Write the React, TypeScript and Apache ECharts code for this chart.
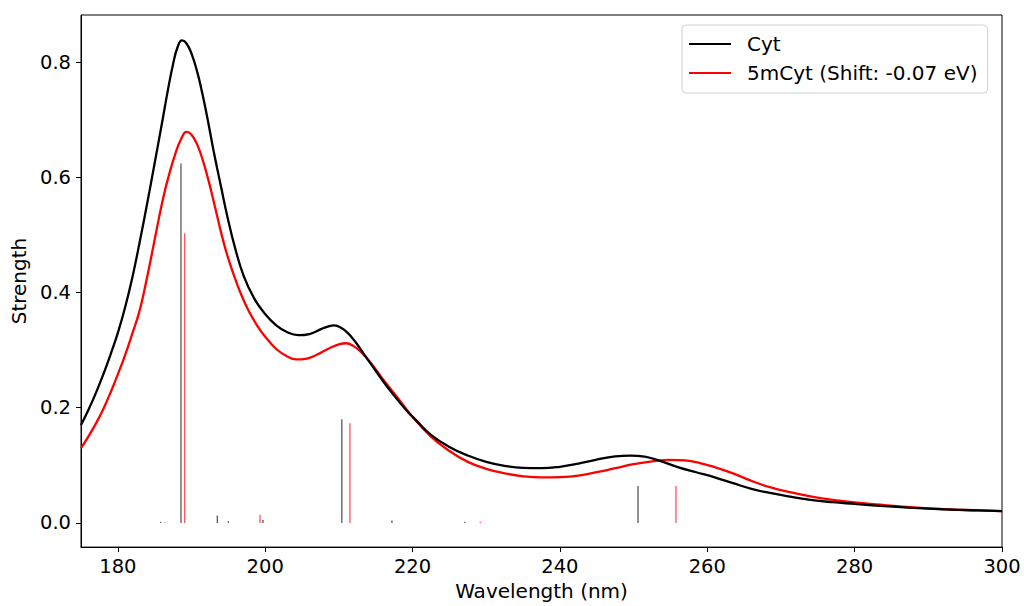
import React, { useEffect, useRef } from "react";
import * as echarts from "echarts";

// Broadened absorption spectra (wavelength in nm, oscillator strength)
const cytWavelength = [
  175.0, 176.0, 177.0, 178.0, 179.0, 180.0, 181.0, 182.0, 183.0, 184.0, 185.0,
  186.0, 186.8, 187.5, 188.1, 188.7, 189.3, 190.0, 190.8, 191.5, 192.2, 193.0,
  194.0, 194.9, 195.9, 197.1, 198.5, 199.9, 201.5, 203.0, 204.5, 206.0, 207.5,
  208.5, 209.4, 210.3, 211.2, 212.2, 213.3, 214.5, 216.0, 217.5, 219.0, 220.5,
  222.5, 225.0, 227.5, 230.0, 232.5, 235.0, 237.5, 240.0, 242.5, 245.0, 247.5,
  249.5, 251.5, 253.5, 256.0, 258.5, 261.0, 263.5, 266.0, 268.5, 271.0, 274.0,
  277.0, 280.0, 284.0, 288.0, 292.0, 296.0, 300.0,
];
const cytStrength = [
  0.17, 0.196, 0.225, 0.257, 0.292, 0.33, 0.375, 0.428, 0.49, 0.556, 0.625,
  0.695, 0.752, 0.797, 0.826, 0.838, 0.833, 0.815, 0.782, 0.744, 0.7, 0.646,
  0.584, 0.53, 0.478, 0.428, 0.39, 0.364, 0.343, 0.331, 0.326, 0.328, 0.336,
  0.341, 0.343, 0.339, 0.33, 0.315, 0.295, 0.273, 0.246, 0.221, 0.198, 0.178,
  0.153, 0.132, 0.117, 0.106, 0.099, 0.0955, 0.095, 0.0975, 0.103, 0.11, 0.1155,
  0.117, 0.115, 0.108, 0.097, 0.088, 0.079, 0.069, 0.059, 0.052, 0.046, 0.04,
  0.036, 0.033, 0.029, 0.026, 0.0237, 0.022, 0.0205,
];

const mcytWavelength = [
  175.0, 176.0, 177.0, 178.0, 179.0, 180.0, 181.0, 182.0, 182.9, 183.7, 184.6,
  185.4, 186.2, 187.0, 187.8, 188.6, 189.3, 190.0, 190.8, 191.6, 192.4, 193.2,
  194.0, 194.8, 195.7, 196.6, 197.8, 199.0, 199.9, 201.5, 203.0, 204.2, 205.5,
  207.0, 208.5, 210.0, 211.0, 212.0, 213.0, 214.4, 216.0, 218.0, 220.0, 222.5,
  225.0, 227.5, 230.0, 232.5, 235.0, 237.5, 240.0, 242.5, 245.0, 247.5, 250.0,
  252.5, 255.0, 257.0, 259.0, 261.0, 263.5, 266.0, 268.5, 271.0, 274.0, 277.0,
  280.0, 284.0, 288.0, 292.0, 296.0, 300.0,
];
const mcytStrength = [
  0.13, 0.15, 0.172, 0.197, 0.226, 0.258, 0.292, 0.33, 0.366, 0.41, 0.466,
  0.518, 0.567, 0.607, 0.641, 0.667, 0.679, 0.674, 0.656, 0.627, 0.59, 0.548,
  0.505, 0.467, 0.432, 0.401, 0.367, 0.341, 0.325, 0.302, 0.289, 0.284, 0.285,
  0.292, 0.302, 0.31, 0.312, 0.307, 0.297, 0.277, 0.249, 0.217, 0.184, 0.15,
  0.125, 0.106, 0.094, 0.086, 0.081, 0.079, 0.0795, 0.082, 0.088, 0.095, 0.102,
  0.107, 0.1095, 0.1085, 0.104, 0.097, 0.086, 0.073, 0.062, 0.054, 0.046, 0.04,
  0.0355, 0.031, 0.027, 0.024, 0.022, 0.0205,
];

// Individual excitations (stick spectrum)
const cytStickWavelength = [185.8, 188.57, 193.5, 195.0, 199.7, 210.4, 217.2, 227.1, 250.6];
const cytStickStrength = [0.002, 0.624, 0.013, 0.003, 0.005, 0.18, 0.004, 0.002, 0.064];
const mcytStickWavelength = [186.4, 189.07, 199.3, 211.5, 229.2, 255.75];
const mcytStickStrength = [0.001, 0.503, 0.014, 0.173, 0.002, 0.064];

const seriesNames = ["Cyt", "5mCyt (Shift: -0.07 eV)"];
const xTitle = "Wavelength (nm)";
const yTitle = "Strength";

const FONT = "DejaVu Sans";

function pairs(xs: number[], ys: number[]) {
  return xs.map((x, i) => [x, ys[i]]);
}

function stickSeries(name: string, xs: number[], ys: number[], color: string, opacity: number) {
  return {
    name,
    type: "custom",
    clip: true,
    data: pairs(xs, ys),
    encode: { x: 0, y: 1 },
    z: 1,
    renderItem: (_params: any, api: any) => {
      const x = api.value(0);
      const h = api.value(1);
      const p0 = api.coord([x, 0]);
      const p1 = api.coord([x, h]);
      return {
        type: "line",
        shape: { x1: p0[0], y1: p0[1], x2: p1[0], y2: p1[1] },
        style: { stroke: color, lineWidth: 1.3, opacity },
      };
    },
  };
}

export default function App() {
  const ref = useRef<HTMLDivElement>(null);

  useEffect(() => {
    if (!ref.current) return;
    const chart = echarts.init(ref.current, undefined, { renderer: "svg" });
    chart.setOption({
      animation: false,
      backgroundColor: "#fff",
      textStyle: { fontFamily: FONT },
      grid: {
        left: 81,
        right: 22,
        top: 15,
        bottom: 58,
        show: true,
        borderColor: "#000",
        borderWidth: 1,
        backgroundColor: "transparent",
      },
      legend: {
        data: seriesNames,
        orient: "vertical",
        left: 682,
        top: 25,
        icon: "rect",
        itemWidth: 42,
        itemHeight: 2,
        itemGap: 9,
        padding: [9, 10, 10, 7],
        backgroundColor: "rgba(255,255,255,0.8)",
        borderColor: "#d0d0d0",
        borderWidth: 1,
        borderRadius: 4,
        textStyle: {
          fontFamily: FONT,
          fontSize: 20,
          color: "#000",
          lineHeight: 20,
          padding: [0, 0, 0, 11],
        },
      },
      xAxis: {
        type: "value",
        min: 175,
        max: 300,
        splitNumber: 6,
        name: xTitle,
        nameLocation: "middle",
        nameGap: 30,
        nameTextStyle: { fontFamily: FONT, fontSize: 20, color: "#000" },
        axisLine: { show: true, onZero: false, lineStyle: { color: "#000", width: 1 } },
        axisTick: { show: true, inside: false, length: 5, lineStyle: { color: "#000", width: 1 } },
        axisLabel: {
          showMinLabel: false,
          margin: 9,
          fontFamily: FONT,
          fontSize: 19.5,
          color: "#000",
          formatter: (v: number) => String(Math.round(v)),
        },
        splitLine: { show: false },
      },
      yAxis: {
        type: "value",
        min: -0.042,
        max: 0.882,
        splitNumber: 5,
        name: yTitle,
        nameLocation: "middle",
        nameGap: 50,
        nameRotate: 90,
        nameTextStyle: { fontFamily: FONT, fontSize: 20, color: "#000" },
        axisLine: { show: true, onZero: false, lineStyle: { color: "#000", width: 1 } },
        axisTick: { show: true, inside: false, length: 5, lineStyle: { color: "#000", width: 1 } },
        axisLabel: {
          showMinLabel: false,
          showMaxLabel: false,
          margin: 10,
          fontFamily: FONT,
          fontSize: 19.5,
          color: "#000",
          formatter: (v: number) => v.toFixed(1),
        },
        splitLine: { show: false },
      },
      series: [
        stickSeries("Cyt excitations", cytStickWavelength, cytStickStrength, "#222", 0.75),
        stickSeries("5mCyt excitations", mcytStickWavelength, mcytStickStrength, "#ff1a2e", 0.75),
        {
          name: seriesNames[0],
          type: "line",
          data: pairs(cytWavelength, cytStrength),
          smooth: 0.45,
          symbol: "none",
          z: 3,
          lineStyle: { color: "#000", width: 2.3 },
          itemStyle: { color: "#000" },
        },
        {
          name: seriesNames[1],
          type: "line",
          data: pairs(mcytWavelength, mcytStrength),
          smooth: 0.45,
          symbol: "none",
          z: 2,
          lineStyle: { color: "#ff0000", width: 2.3 },
          itemStyle: { color: "#ff0000" },
        },
      ],
    });
    return () => chart.dispose();
  }, []);

  return (
    <div
      ref={ref}
      style={{ position: "fixed", left: 0, top: 0, width: 1024, height: 606, background: "#fff" }}
    />
  );
}
